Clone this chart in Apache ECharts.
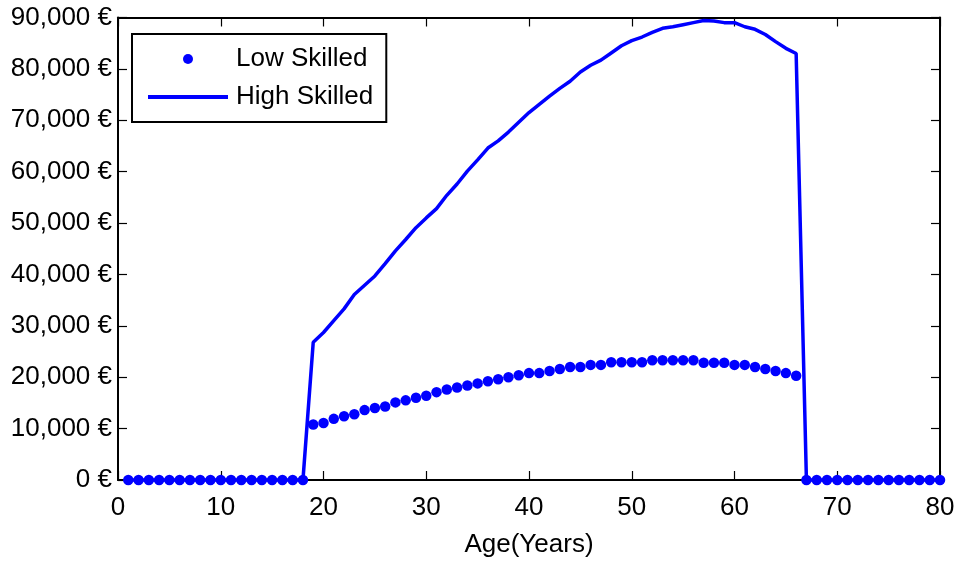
<!DOCTYPE html>
<html>
<head>
<meta charset="utf-8">
<script src="https://cdn.jsdelivr.net/npm/echarts@6/dist/echarts.min.js"></script>
<style>
html,body{margin:0;padding:0;background:#fff;}
#chart{width:960px;height:563px;}
</style>
</head>
<body>
<div id="chart"></div>
<script>
// Ages 1..80
var ages = [];
for (var a = 1; a <= 80; a++) ages.push(a);

// Low skilled income (€) by age
var lowSkilled = [
  0,0,0,0,0,0,0,0,0,0,0,0,0,0,0,0,0,0,
  10800,11100,11900,12400,12800,13600,14000,14300,15100,15500,
  16000,16400,17100,17600,18000,18400,18800,19200,19600,20000,
  20400,20800,20800,21200,21600,22000,22000,22400,22400,22900,
  22900,22900,22900,23300,23300,23300,23300,23300,22800,22800,
  22800,22400,22400,22000,21600,21200,20800,20300,
  0,0,0,0,0,0,0,0,0,0,0,0,0,0
];

// High skilled income (€) by age
var highSkilled = [
  0,0,0,0,0,0,0,0,0,0,0,0,0,0,0,0,0,0,
  26800,28700,31000,33300,36100,37900,39700,42100,44600,46800,
  49100,51000,52800,55400,57600,60100,62300,64600,66000,67700,
  69600,71500,73100,74700,76200,77600,79400,80700,81700,83100,
  84500,85500,86200,87100,87900,88200,88600,89000,89400,89300,
  89000,89000,88200,87700,86700,85300,84000,83000,
  0,0,0,0,0,0,0,0,0,0,0,0,0,0
];

var seriesNames = ['Low Skilled', 'High Skilled'];
var xAxisName = 'Age(Years)';

var FONT = '"Liberation Sans", Arial, sans-serif';
var BLUE = '#0000ff';

function fmtEuro(v) {
  var s = String(Math.round(v));
  s = s.replace(/\B(?=(\d{3})+(?!\d))/g, ',');
  return s + ' €';
}

var lowData = ages.map(function (a, i) { return [a, lowSkilled[i]]; });
var highData = ages.map(function (a, i) { return [a, highSkilled[i]]; });

var tickStyle = { show: true, inside: true, length: 9, lineStyle: { color: '#000', width: 1.2 } };
var lineStyle = { show: true, onZero: false, lineStyle: { color: '#000', width: 2 } };

var chart = echarts.init(document.getElementById('chart'), null, { renderer: 'canvas' });
chart.setOption({
  animation: false,
  backgroundColor: '#fff',
  grid: { left: 118, right: 20, top: 17.5, bottom: 80, containLabel: false },
  legend: {
    orient: 'vertical',
    left: 132,
    top: 34,
    itemWidth: 80,
    itemHeight: 10,
    itemGap: 12,
    padding: [12, 13, 12, 16],
    borderColor: '#000',
    borderWidth: 2,
    backgroundColor: '#fff',
    selectedMode: false,
    textStyle: { fontFamily: FONT, fontSize: 26, color: '#000', padding: [0, 0, 0, 3] },
    data: [
      { name: seriesNames[0], icon: 'circle', itemStyle: { color: BLUE, opacity: 1 } },
      { name: seriesNames[1], icon: 'path://M0,0h80v4h-80z', itemStyle: { color: BLUE } }
    ]
  },
  xAxis: [
    {
      type: 'value', min: 0, max: 80, interval: 10,
      position: 'bottom',
      name: xAxisName, nameLocation: 'middle', nameGap: 52,
      nameTextStyle: { fontFamily: FONT, fontSize: 26, color: '#000' },
      axisLine: lineStyle, axisTick: tickStyle,
      axisLabel: { fontFamily: FONT, fontSize: 26, color: '#000', margin: 15 },
      splitLine: { show: false }
    },
    {
      type: 'value', min: 0, max: 80, interval: 10,
      position: 'top',
      axisLine: lineStyle, axisTick: tickStyle,
      axisLabel: { show: false }, splitLine: { show: false }
    }
  ],
  yAxis: [
    {
      type: 'value', min: 0, max: 90000, interval: 10000,
      position: 'left',
      axisLine: lineStyle, axisTick: tickStyle,
      axisLabel: { fontFamily: FONT, fontSize: 26, color: '#000', margin: 6, formatter: fmtEuro },
      splitLine: { show: false }
    },
    {
      type: 'value', min: 0, max: 90000, interval: 10000,
      position: 'right',
      axisLine: lineStyle, axisTick: tickStyle,
      axisLabel: { show: false }, splitLine: { show: false }
    }
  ],
  series: [
    {
      name: seriesNames[0], type: 'scatter',
      xAxisIndex: 0, yAxisIndex: 0,
      symbol: 'circle', symbolSize: 10.5,
      itemStyle: { color: BLUE, opacity: 1 },
      data: lowData, z: 3
    },
    {
      name: seriesNames[1], type: 'line',
      xAxisIndex: 0, yAxisIndex: 0,
      symbol: 'none', showSymbol: false, clip: false,
      lineStyle: { color: BLUE, width: 3.5 },
      itemStyle: { color: BLUE },
      data: highData, z: 4
    }
  ]
});
</script>
</body>
</html>
